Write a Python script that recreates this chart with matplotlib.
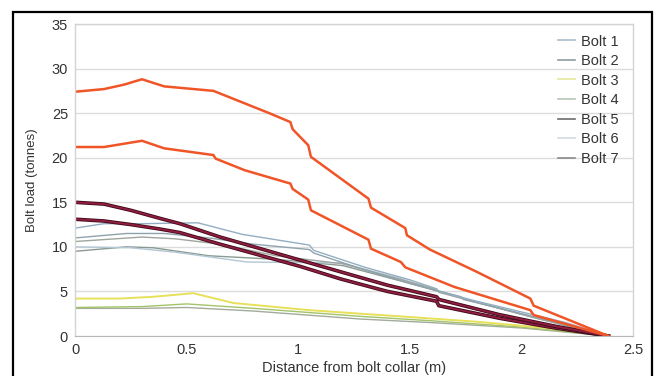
import matplotlib
matplotlib.use("Agg")
import matplotlib.pyplot as plt
from matplotlib.lines import Line2D
from matplotlib.patches import Rectangle

plt.rcParams['font.family'] = ['Liberation Sans', 'DejaVu Sans']

# ---- data ----
legend_labels = ["Bolt 1", "Bolt 2", "Bolt 3", "Bolt 4", "Bolt 5", "Bolt 6", "Bolt 7"]
legend_colors = ["#a9bccb", "#8e9c9e", "#e4e79a", "#b9c6b8", "#6c6c6c", "#d2d9df", "#8a8a8a"]

x_tl = [0, 0.5, 1, 1.5, 2, 2.5]
y_tl = [0, 5, 10, 15, 20, 25, 30, 35]

# thin gray/blue series
a_x = [0, 0.13, 0.3, 0.55, 0.75, 1.05, 1.07, 1.3, 1.5, 1.62, 1.63, 1.8, 2.05, 2.2, 2.39]
a_y = [12.1, 12.6, 12.6, 12.7, 11.4, 10.2, 9.6, 7.7, 6.3, 5.3, 5.0, 3.9, 2.4, 1.5, 0]
b_x = [0, 0.23, 0.4, 0.6, 0.8, 1.05, 1.07, 1.3, 1.5, 1.73, 1.74, 2.05, 2.39]
b_y = [11.0, 11.5, 11.5, 11.0, 10.3, 9.7, 9.3, 7.4, 5.9, 4.4, 4.1, 2.2, 0]
c_x = [0, 0.3, 0.45, 0.65, 0.9, 1.2, 1.45, 1.62, 1.63, 2.05, 2.39]
c_y = [10.6, 11.1, 10.9, 10.3, 9.0, 8.1, 6.4, 5.2, 4.9, 2.1, 0]
d_x = [0, 0.25, 0.45, 0.77, 1.19, 1.45, 1.7, 2.05, 2.39]
d_y = [10.0, 9.9, 9.4, 8.3, 8.2, 6.5, 4.5, 2.1, 0]
e_x = [0, 0.23, 0.35, 0.6, 0.9, 1.2, 1.5, 1.8, 2.1, 2.39]
e_y = [9.5, 10.0, 9.9, 9.0, 8.6, 7.9, 5.9, 3.8, 1.8, 0]

# low series
yel_x = [0, 0.2, 0.35, 0.53, 0.71, 1.05, 1.28, 1.46, 1.8, 2.29, 2.39]
yel_y = [4.2, 4.2, 4.4, 4.8, 3.7, 2.9, 2.5, 2.2, 1.6, 0.5, 0]
grn_x = [0, 0.3, 0.5, 0.8, 1.28, 1.6, 2.0, 2.39]
grn_y = [3.2, 3.3, 3.6, 3.1, 2.2, 1.7, 1.0, 0]
gg_x = [0, 0.3, 0.5, 0.8, 1.28, 1.6, 2.0, 2.39]
gg_y = [3.1, 3.1, 3.2, 2.8, 1.9, 1.5, 0.9, 0]

# heavy series
or1_x = [0, 0.13, 0.22, 0.30, 0.40, 0.62, 0.87, 0.965, 0.975, 1.045, 1.057, 1.315, 1.326, 1.48, 1.487, 1.59, 1.8, 2.04, 2.055, 2.39]
or1_y = [27.4, 27.7, 28.2, 28.8, 28.0, 27.5, 25.0, 24.0, 23.2, 21.4, 20.1, 15.4, 14.4, 12.1, 11.3, 9.7, 7.2, 4.2, 3.4, 0]
or2_x = [0, 0.13, 0.30, 0.40, 0.62, 0.63, 0.76, 0.965, 0.975, 1.045, 1.057, 1.315, 1.326, 1.46, 1.48, 1.7, 2.04, 2.055, 2.39]
or2_y = [21.2, 21.2, 21.9, 21.05, 20.3, 19.9, 18.6, 17.1, 16.5, 15.3, 14.1, 10.8, 9.8, 8.3, 7.7, 5.5, 2.9, 2.35, 0]
m1_x = [0, 0.13, 0.25, 0.38, 0.47, 0.65, 1.01, 1.19, 1.40, 1.62, 1.63, 1.9, 2.15, 2.39]
m1_y = [15.0, 14.8, 14.1, 13.2, 12.6, 11.1, 8.5, 7.2, 5.7, 4.4, 4.1, 2.4, 1.1, 0]
m2_x = [0, 0.13, 0.25, 0.38, 0.47, 0.65, 1.01, 1.19, 1.40, 1.62, 1.63, 1.9, 2.15, 2.39]
m2_y = [13.1, 12.9, 12.5, 12.0, 11.6, 10.3, 7.8, 6.4, 5.0, 3.9, 3.4, 2.0, 0.9, 0]

# ---- figure ----
W, H = 659, 376
fig = plt.figure(figsize=(W / 100, H / 100), dpi=100)
fig.patch.set_facecolor("white")
fig.patches.append(Rectangle((13 / W, -0.05), (652 - 13) / W, 1 - 12 / H + 0.05,
                             transform=fig.transFigure, fill=False,
                             edgecolor="black", linewidth=1.6))

ax = fig.add_axes([75 / W, 1 - 336 / H, (633 - 75) / W, (336 - 24) / H])
ax.set_xlim(0, 2.5)
ax.set_ylim(0, 35)
ax.set_xticks(x_tl)
ax.set_xticklabels([f"{v:g}" for v in x_tl])
ax.set_yticks(y_tl)
ax.set_yticklabels([f"{v:g}" for v in y_tl])
ax.tick_params(length=0, labelsize=10.5, colors="#333333", pad=5)
ax.grid(axis="y", color="#dcdcdc", linewidth=1.0)
ax.set_axisbelow(True)
for s in ["left", "right", "top"]:
    ax.spines[s].set_color("#d4d4d4")
    ax.spines[s].set_linewidth(1.0)
ax.spines["bottom"].set_color("#b8b8b8")

thin = 1.0
ax.plot(e_x, e_y, color="#8a9a92", lw=thin)
ax.plot(d_x, d_y, color="#b3c6d4", lw=thin)
ax.plot(c_x, c_y, color="#9ea69f", lw=thin)
ax.plot(b_x, b_y, color="#8fa3ad", lw=thin)
ax.plot(a_x, a_y, color="#93aec2", lw=thin)
ax.plot(gg_x, gg_y, color="#a3ab9c", lw=thin)
ax.plot(grn_x, grn_y, color="#a3c46a", lw=thin)
ax.plot(yel_x, yel_y, color="#e6e05a", lw=1.4)
ax.plot(m2_x, m2_y, color="#3e0a18", lw=2.6)
ax.plot(m2_x, m2_y, color="#8e1d40", lw=1.4)
ax.plot(m1_x, m1_y, color="#3e0a18", lw=2.6)
ax.plot(m1_x, m1_y, color="#8e1d40", lw=1.4)
ax.plot(or2_x, or2_y, color="#f05528", lw=1.8)
ax.plot(or1_x, or1_y, color="#f05528", lw=1.8)

handles = [Line2D([0], [0], color=c, lw=1.2) for c in legend_colors]
ax.legend(handles, legend_labels, loc="upper left", bbox_to_anchor=(0.855, 0.985),
          frameon=False, fontsize=10.5, handlelength=1.2, handletextpad=0.4,
          labelspacing=0.38, labelcolor="#333333", borderaxespad=0)

ax.set_xlabel("Distance from bolt collar (m)", fontsize=10.5, color="#333333", labelpad=3)
ax.set_ylabel("Bolt load (tonnes)", fontsize=9.5, color="#333333", labelpad=10)

fig.savefig("out.png", dpi=100, facecolor="white")
